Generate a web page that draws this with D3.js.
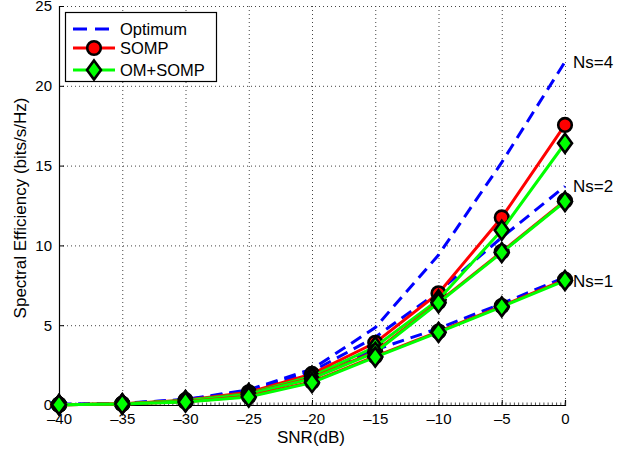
<!DOCTYPE html>
<html>
<head>
<meta charset="utf-8">
<script src="https://cdn.jsdelivr.net/npm/d3@7"></script>
<style>
  body { margin: 0; background: #fff; }
  text { font-family: "Liberation Sans", Arial, sans-serif; }
</style>
</head>
<body>
<svg width="638" height="452"></svg>
<script>
var snr = [-40, -35, -30, -25, -20, -15, -10, -5, 0];

// Ns = 4
var opt4  = [0.03, 0.1, 0.35, 0.95, 2.25, 4.85, 9.4, 15.2, 21.5];
var somp4 = [0.02, 0.08, 0.3, 0.8, 1.95, 3.9, 7.0, 11.75, 17.55];
var om4   = [0.02, 0.07, 0.28, 0.72, 1.8, 3.65, 6.6, 10.95, 16.4];
// Ns = 2
var opt2  = [0.03, 0.1, 0.33, 0.9, 2.1, 4.25, 7.1, 10.5, 13.7];
var somp2 = [0.02, 0.07, 0.27, 0.7, 1.7, 3.35, 6.45, 9.6, 12.8];
var om2   = [0.02, 0.07, 0.26, 0.68, 1.65, 3.3, 6.4, 9.55, 12.75];
// Ns = 1
var opt1  = [0.03, 0.1, 0.3, 0.85, 1.95, 3.45, 4.8, 6.35, 8.0];
var somp1 = [0.02, 0.06, 0.2, 0.55, 1.45, 3.05, 4.6, 6.2, 7.85];
var om1   = [0.02, 0.06, 0.19, 0.5, 1.4, 3.0, 4.55, 6.15, 7.8];

var xTicks = [-40, -35, -30, -25, -20, -15, -10, -5, 0];
var yTicks = [0, 5, 10, 15, 20, 25];
var nsLabels = ["Ns=4", "Ns=2", "Ns=1"];
var legendNames = ["Optimum", "SOMP", "OM+SOMP"];

var svg = d3.select("svg");
var x = d3.scaleLinear().domain([-40, 0]).range([59, 565]);
var y = d3.scaleLinear().domain([0, 25]).range([405, 6]);

// grid
var grid = svg.append("g").attr("stroke", "#444").attr("stroke-width", 1)
    .attr("stroke-dasharray", "1,3");
grid.selectAll(".gx").data(xTicks.slice(1)).enter().append("line")
    .attr("x1", d => x(d) + 0.5).attr("x2", d => x(d) + 0.5)
    .attr("y1", y(25)).attr("y2", y(0));
grid.selectAll(".gy").data(yTicks.slice(1)).enter().append("line")
    .attr("x1", x(-40)).attr("x2", x(0))
    .attr("y1", d => y(d) + 0.5).attr("y2", d => y(d) + 0.5);

// axes
var xAxis = svg.append("g").attr("transform", "translate(0," + y(0) + ")")
    .call(d3.axisBottom(x).tickValues(xTicks).tickSize(-5).tickPadding(8)
      .tickFormat(d => d === 0 ? "0" : "\u2013" + Math.abs(d)));
var yAxis = svg.append("g").attr("transform", "translate(" + x(-40) + ",0)")
    .call(d3.axisLeft(y).tickValues(yTicks).tickSize(-5).tickPadding(7));
[xAxis, yAxis].forEach(function(a) {
  a.select(".domain").attr("stroke", "#000").attr("stroke-width", 1.2);
  a.selectAll("text").attr("font-size", 15).attr("fill", "#000")
    .style("font-family", "'Liberation Sans', Arial, sans-serif");
});

// minor ticks on x axis
var minor = d3.range(-40, 0.001, 1 / 3);
svg.append("g").selectAll("line").data(minor).enter().append("line")
    .attr("x1", d => x(d)).attr("x2", d => x(d))
    .attr("y1", y(0)).attr("y2", y(0) - 2.5)
    .attr("stroke", "#555").attr("stroke-width", 1);

// axis titles
svg.append("text").attr("x", 311).attr("y", 443).attr("text-anchor", "middle")
    .attr("font-size", 17).text("SNR(dB)");
svg.append("text").attr("transform", "translate(26,208) rotate(-90)")
    .attr("text-anchor", "middle").attr("font-size", 17)
    .text("Spectral Efficiency (bits/s/Hz)");

var line = d3.line().x((d, i) => x(snr[i])).y(d => y(d));

var plot = svg.append("g");

function drawOpt(vals) {
  plot.append("path").datum(vals).attr("d", line).attr("fill", "none")
    .attr("stroke", "#0000ff").attr("stroke-width", 3)
    .attr("stroke-dasharray", "12,7");
}
function drawSomp(vals) {
  plot.append("path").datum(vals).attr("d", line).attr("fill", "none")
    .attr("stroke", "#ff0000").attr("stroke-width", 3);
  plot.append("g").selectAll("circle").data(vals).enter().append("circle")
    .attr("cx", (d, i) => x(snr[i])).attr("cy", d => y(d)).attr("r", 6.8)
    .attr("fill", "#ff0000").attr("stroke", "#000").attr("stroke-width", 2.6);
}
var diamond = "M0,-9.5L7,0L0,9.5L-7,0Z";
function drawOm(vals) {
  plot.append("path").datum(vals).attr("d", line).attr("fill", "none")
    .attr("stroke", "#00ff00").attr("stroke-width", 3);
  plot.append("g").selectAll("path").data(vals).enter().append("path")
    .attr("d", diamond)
    .attr("transform", (d, i) => "translate(" + x(snr[i]) + "," + y(d) + ")")
    .attr("fill", "#00ff00").attr("stroke", "#000").attr("stroke-width", 2.6);
}

drawOpt(opt4); drawOpt(opt2); drawOpt(opt1);
drawSomp(somp4); drawOm(om4);
drawSomp(somp2); drawOm(om2);
drawSomp(somp1); drawOm(om1);

// Ns labels
var nsY = [opt4[8], opt2[8], om1[8]];
svg.append("g").selectAll("text").data(nsLabels).enter().append("text")
    .attr("x", 573).attr("y", (d, i) => y(nsY[i]) + 6)
    .attr("font-size", 17).text(d => d);

// legend
var lg = svg.append("g");
lg.append("rect").attr("x", 65.5).attr("y", 12.5).attr("width", 151).attr("height", 69)
    .attr("fill", "#fff").attr("stroke", "#000").attr("stroke-width", 1.2);
var ly = [29, 48, 70];
lg.append("line").attr("x1", 73).attr("x2", 115).attr("y1", ly[0]).attr("y2", ly[0])
    .attr("stroke", "#0000ff").attr("stroke-width", 3).attr("stroke-dasharray", "14,8");
lg.append("line").attr("x1", 73).attr("x2", 115).attr("y1", ly[1]).attr("y2", ly[1])
    .attr("stroke", "#ff0000").attr("stroke-width", 3);
lg.append("circle").attr("cx", 94).attr("cy", ly[1]).attr("r", 6.8)
    .attr("fill", "#ff0000").attr("stroke", "#000").attr("stroke-width", 2.6);
lg.append("line").attr("x1", 73).attr("x2", 115).attr("y1", ly[2]).attr("y2", ly[2])
    .attr("stroke", "#00ff00").attr("stroke-width", 3);
lg.append("path").attr("d", diamond).attr("transform", "translate(94," + ly[2] + ")")
    .attr("fill", "#00ff00").attr("stroke", "#000").attr("stroke-width", 2.6);
lg.selectAll(".lt").data(legendNames).enter().append("text")
    .attr("x", 120).attr("y", (d, i) => ly[i] + 6).attr("font-size", 16.5)
    .text(d => d);
</script>
</body>
</html>
